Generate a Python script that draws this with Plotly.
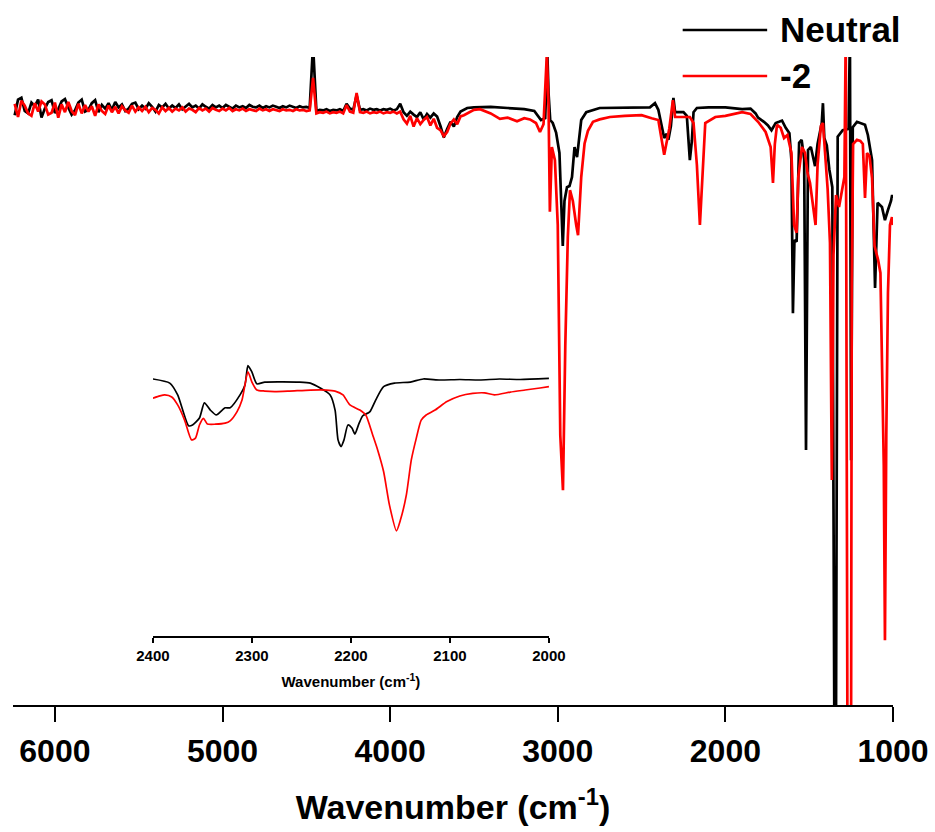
import plotly.graph_objects as go

# ---------------------------------------------------------------
# FTIR transmittance spectra: neutral compound vs. its -2 state
# ---------------------------------------------------------------

# High-wavenumber region, shared 20 cm-1 sampling grid (6240 -> 3580)
noise_wn = list(range(6240, 3579, -20))

neutral_noise_T = [
    98.3, 100.9, 101.2, 99.0, 98.6, 100.4, 99.8, 100.9, 97.9, 99.4,
    100.5, 100.8, 98.7, 99.3, 100.6, 101.0, 99.6, 98.4, 99.1, 100.4,
    100.9, 98.9, 99.2, 100.3, 100.8, 98.8, 100.0, 99.4, 100.3, 99.2,
    100.5, 99.6, 100.1, 99.0, 99.4, 100.2, 100.4, 99.3, 99.9, 99.4,
    100.3, 99.7, 98.9, 100.0, 99.6, 100.2, 99.4, 99.9, 99.5, 100.1,
    99.3, 99.8, 100.2, 99.6, 99.9, 99.4, 100.1, 99.7, 99.4, 100.0,
    99.6, 99.9, 99.5, 100.0, 99.7, 99.4, 99.9, 99.6, 99.8, 99.5,
    100.0, 99.7, 99.6, 99.9, 99.5, 99.8, 99.6, 99.9, 99.7, 99.5,
    99.8, 99.6, 99.9, 99.7, 99.5, 99.8, 99.6, 99.7, 99.5, 110.0,
    99.0, 99.2, 99.1, 99.3, 99.0, 99.2, 99.1, 99.3, 99.0, 100.2,
    99.4, 99.2, 101.6, 99.2, 99.3, 99.1, 99.4, 99.2, 99.3, 99.1,
    99.3, 99.2, 99.4, 99.1, 99.3, 100.2, 98.8, 98.2, 98.9, 98.4,
    98.0, 98.8, 97.6, 98.5, 97.9, 98.6, 98.1, 96.5, 94.6, 96.0,
    97.2, 96.4, 98.0, 98.9,
]

dianion_noise_T = [
    100.2, 98.0, 100.7, 99.9, 98.6, 98.2, 100.3, 98.9, 100.6, 100.1,
    98.4, 98.7, 100.4, 97.9, 100.1, 98.8, 100.5, 99.0, 98.3, 100.2,
    98.6, 100.0, 98.9, 99.8, 98.2, 100.1, 99.0, 98.5, 99.9, 98.8,
    99.7, 98.6, 99.8, 99.1, 98.7, 99.9, 98.9, 99.6, 99.0, 99.7,
    98.8, 99.5, 99.2, 98.6, 99.6, 99.0, 99.5, 98.9, 99.4, 99.1,
    99.6, 98.9, 99.4, 99.2, 98.8, 99.5, 99.1, 99.4, 98.9, 99.5,
    99.2, 99.0, 99.4, 99.1, 99.5, 99.0, 99.3, 99.1, 99.4, 99.0,
    99.3, 99.2, 99.0, 99.4, 99.1, 99.3, 99.0, 99.3, 99.2, 99.0,
    99.3, 99.1, 99.2, 99.0, 99.3, 99.1, 99.2, 99.0, 99.1, 104.5,
    98.6, 98.8, 98.7, 98.9, 98.6, 98.8, 98.7, 98.9, 98.6, 100.0,
    98.9, 98.7, 102.0, 98.8, 98.7, 98.9, 98.6, 98.8, 98.7, 98.9,
    98.6, 98.8, 98.7, 98.9, 98.6, 98.9, 97.6, 96.9, 98.2, 96.4,
    97.8, 96.8, 97.5, 98.0, 96.6, 97.7, 96.2, 95.8, 94.8, 95.5,
    96.9, 97.6, 96.8, 98.1,
]

# Mid-IR / fingerprint region (3560 -> 1000 cm-1)
neutral_wn = [
    3560, 3540, 3500, 3400, 3300, 3200, 3140, 3100, 3075, 3062, 3055, 3045,
    3030, 3010, 2990, 2970, 2960, 2945, 2930, 2915, 2900, 2885, 2860, 2830,
    2750, 2600, 2450, 2420, 2400, 2365, 2350, 2340, 2325, 2310, 2300, 2250,
    2230, 2212, 2200, 2190, 2170, 2100, 2000, 1900, 1850, 1820, 1805, 1770,
    1746, 1725, 1700, 1680, 1662, 1640, 1618, 1606, 1597, 1588, 1575, 1560,
    1545, 1530, 1519, 1507, 1490, 1465, 1450, 1425, 1418, 1410, 1395, 1380,
    1362, 1350, 1340, 1330, 1300, 1265, 1257, 1250, 1240, 1215, 1195, 1167,
    1150, 1125, 1107, 1092, 1066, 1048, 1030, 1012, 1005, 1000,
]
neutral_T = [
    99.2, 99.5, 99.6, 99.7, 99.5, 99.3, 99.0, 97.5, 97.8, 108.5, 102.0, 97.5,
    97.0, 95.4, 92.0, 76.5, 84.0, 86.3, 86.5, 88.0, 93.0, 91.3, 97.5, 98.8,
    99.5, 99.5, 99.6, 100.3, 99.2, 94.5, 95.2, 94.2, 96.5, 101.2, 98.8, 98.8,
    98.2, 90.8, 94.0, 98.8, 99.5, 99.6, 99.6, 99.3, 99.4, 98.6, 97.9, 97.2,
    96.6, 95.8, 97.0, 97.2, 97.4, 96.2, 95.3, 90.8, 65.3, 77.5, 77.2, 93.7,
    94.2, 91.0, 42.5, 92.5, 93.0, 89.8, 93.5, 97.0, 100.3, 94.5, 93.3, 89.3,
    86.3, -3.0, -3.0, 94.7, 95.8, 96.0, 112.0, 40.8, 96.3, 97.2, 97.0, 96.7,
    95.0, 90.8, 69.5, 83.7, 83.0, 80.8, 82.5, 84.0, 85.0, 84.5,
]

dianion_wn = [
    3560, 3500, 3464, 3400, 3345, 3300, 3243, 3200, 3166, 3130, 3106, 3085,
    3065, 3055, 3047, 3035, 3017, 3000, 2985, 2969, 2955, 2940, 2927, 2910,
    2890, 2879, 2860, 2840, 2820, 2790, 2750, 2689, 2600, 2500, 2440, 2400,
    2365, 2350, 2335, 2313, 2300, 2250, 2212, 2190, 2170, 2152, 2135, 2120,
    2060, 2000, 1900, 1850, 1805, 1760, 1730, 1716, 1705, 1692, 1670, 1650,
    1630, 1606, 1590, 1575, 1565, 1543, 1525, 1510, 1495, 1477, 1462, 1450,
    1430, 1418, 1405, 1390, 1376, 1365, 1355, 1340, 1322, 1305, 1290, 1282,
    1272, 1255, 1250, 1246, 1238, 1215, 1195, 1180, 1167, 1155, 1140, 1125,
    1110, 1089, 1075, 1055, 1048, 1040, 1030, 1018, 1006, 1000,
]
dianion_T = [
    98.3, 99.2, 99.3, 98.6, 97.7, 97.9, 97.3, 97.8, 97.6, 97.0, 95.5, 96.8,
    108.5, 100.0, 82.2, 93.0, 90.8, 80.0, 45.0, 35.8, 60.0, 78.0, 85.8, 84.0,
    80.0, 78.3, 88.0, 93.6, 95.7, 97.2, 97.6, 98.0, 98.2, 98.3, 97.8, 97.5,
    91.7, 94.2, 96.0, 100.8, 98.0, 98.0, 98.0, 97.0, 90.0, 80.0, 88.7, 97.0,
    98.0, 98.2, 98.8, 98.5, 97.2, 95.5, 93.0, 87.0, 93.5, 96.7, 96.2, 94.5,
    95.0, 92.0, 80.0, 78.7, 88.0, 93.0, 92.0, 88.7, 87.0, 83.0, 80.0, 90.0,
    96.5, 97.0, 91.5, 86.0, 77.0, 37.5, 75.0, 85.0, 83.0, 86.0, 88.0, 112.0,
    -3.0, -3.0, -3.0, 70.0, 93.5, 94.2, 94.0, 93.5, 84.5, 92.0, 91.5, 87.8,
    76.5, 74.2, 72.0, 40.0, 10.8, 45.0, 68.7, 80.0, 81.3, 80.0,
]

# Inset: expanded 2400-2000 cm-1 window
inset_neutral_wn = [
    2400, 2383, 2375, 2364, 2360, 2353, 2348, 2342, 2336, 2330, 2327, 2322,
    2312, 2307, 2304, 2300, 2295, 2287, 2272, 2252, 2241, 2231, 2221, 2216,
    2213, 2210, 2207, 2203, 2199, 2196, 2192, 2188, 2181, 2175, 2167, 2156,
    2140, 2127, 2110, 2090, 2070, 2050, 2029, 2000,
]
inset_neutral_T = [
    100.0, 98.4, 93.8, 81.8, 82.1, 84.8, 90.7, 87.9, 86.0, 87.9, 88.8, 88.8,
    93.8, 97.7, 105.2, 102.7, 98.1, 98.8, 98.9, 98.8, 98.4, 96.5, 93.8, 87.9,
    76.3, 73.7, 76.3, 82.1, 80.9, 78.6, 82.5, 85.7, 87.2, 91.8, 97.0, 98.4,
    98.8, 100.0, 99.6, 99.8, 99.6, 100.0, 99.8, 100.2,
]
inset_dianion_wn = [
    2400, 2393, 2388, 2381, 2375, 2368, 2361, 2357, 2353, 2349, 2345, 2337,
    2327, 2322, 2315, 2310, 2304, 2300, 2295, 2287, 2277, 2262, 2241, 2225,
    2216, 2208, 2201, 2191, 2185, 2178, 2173, 2167, 2161, 2154, 2150, 2144,
    2139, 2134, 2129, 2124, 2115, 2103, 2090, 2077, 2065, 2055, 2039, 2024,
    2009, 2000,
]
inset_dianion_T = [
    92.5, 93.4, 93.8, 93.0, 89.9, 84.0, 76.3, 77.0, 82.1, 84.7, 82.5, 82.4,
    82.8, 83.7, 87.3, 91.8, 102.8, 98.8, 95.7, 95.3, 95.1, 95.3, 95.7, 95.7,
    95.3, 93.8, 89.9, 87.9, 86.0, 78.2, 72.4, 64.0, 50.8, 40.9, 45.1, 54.9,
    68.5, 76.9, 84.0, 86.0, 87.9, 91.2, 93.4, 94.4, 94.6, 93.8, 94.9, 95.7,
    96.5, 97.0,
]

main_ticks = [6000, 5000, 4000, 3000, 2000, 1000]
inset_ticks = [2400, 2300, 2200, 2100, 2000]
series_names = ["Neutral", "-2"]
series_colors = ["#000000", "#ff0000"]

FONT = "Liberation Sans, Arial, sans-serif"

fig = go.Figure()

fig.add_trace(go.Scatter(
    x=noise_wn + neutral_wn, y=neutral_noise_T + neutral_T,
    mode="lines", name=series_names[0],
    line=dict(color=series_colors[0], width=2.7),
    xaxis="x", yaxis="y", showlegend=False,
))
fig.add_trace(go.Scatter(
    x=noise_wn + dianion_wn, y=dianion_noise_T + dianion_T,
    mode="lines", name=series_names[1],
    line=dict(color=series_colors[1], width=2.7),
    xaxis="x", yaxis="y", showlegend=False,
))
fig.add_trace(go.Scatter(
    x=inset_neutral_wn, y=inset_neutral_T, mode="lines",
    line=dict(color=series_colors[0], width=1.7, shape="spline", smoothing=0.6),
    xaxis="x2", yaxis="y2", showlegend=False,
))
fig.add_trace(go.Scatter(
    x=inset_dianion_wn, y=inset_dianion_T, mode="lines",
    line=dict(color=series_colors[1], width=1.7, shape="spline", smoothing=0.6),
    xaxis="x2", yaxis="y2", showlegend=False,
))

# Legend drawn as line samples with bold labels
legend_rows = [1.0417, 0.9707]
shapes = []
annotations = []
for name, color, yy in zip(series_names, series_colors, legend_rows):
    shapes.append(dict(type="line", xref="paper", yref="paper",
                       x0=0.761, x1=0.857, y0=yy, y1=yy,
                       line=dict(color=color, width=2.6)))
    annotations.append(dict(xref="paper", yref="paper", x=0.869, y=yy,
                            text=name, showarrow=False, xanchor="left",
                            yanchor="middle",
                            font=dict(family=FONT, size=35, color="#000000",
                                      weight="bold")))

fig.update_layout(
    width=935, height=832,
    margin=dict(l=13, r=42, t=57, b=127),
    paper_bgcolor="#ffffff", plot_bgcolor="#ffffff",
    shapes=shapes, annotations=annotations,
    xaxis=dict(
        range=[6250, 1000], domain=[0, 1], automargin=False,
        tickvals=main_ticks, ticktext=[str(t) for t in main_ticks],
        ticks="outside", ticklen=15, tickwidth=2, tickcolor="#000000",
        showline=True, linewidth=2, linecolor="#000000",
        showgrid=False, zeroline=False,
        ticklabelstandoff=2,
        tickfont=dict(family=FONT, size=32, color="#000000", weight="bold"),
        title=dict(text="Wavenumber (cm<sup>-1</sup>)", standoff=27,
                   font=dict(family=FONT, size=34, color="#000000",
                             weight="bold")),
    ),
    yaxis=dict(range=[0, 108], visible=False, domain=[0, 1]),
    xaxis2=dict(
        range=[2400, 2000], domain=[0.159, 0.609], anchor="y2",
        automargin=False,
        tickvals=inset_ticks, ticktext=[str(t) for t in inset_ticks],
        ticks="outside", ticklen=5, tickwidth=1.5, tickcolor="#000000",
        showline=True, linewidth=1.5, linecolor="#000000",
        showgrid=False, zeroline=False,
        tickfont=dict(family=FONT, size=15, color="#000000", weight="bold"),
        title=dict(text="Wavenumber (cm<sup>-1</sup>)", standoff=14,
                   font=dict(family=FONT, size=15, color="#000000",
                             weight="bold")),
    ),
    yaxis2=dict(range=[0, 109.3], domain=[0.1065, 0.540], anchor="x2",
                visible=False),
)

fig.write_html("out.html")
